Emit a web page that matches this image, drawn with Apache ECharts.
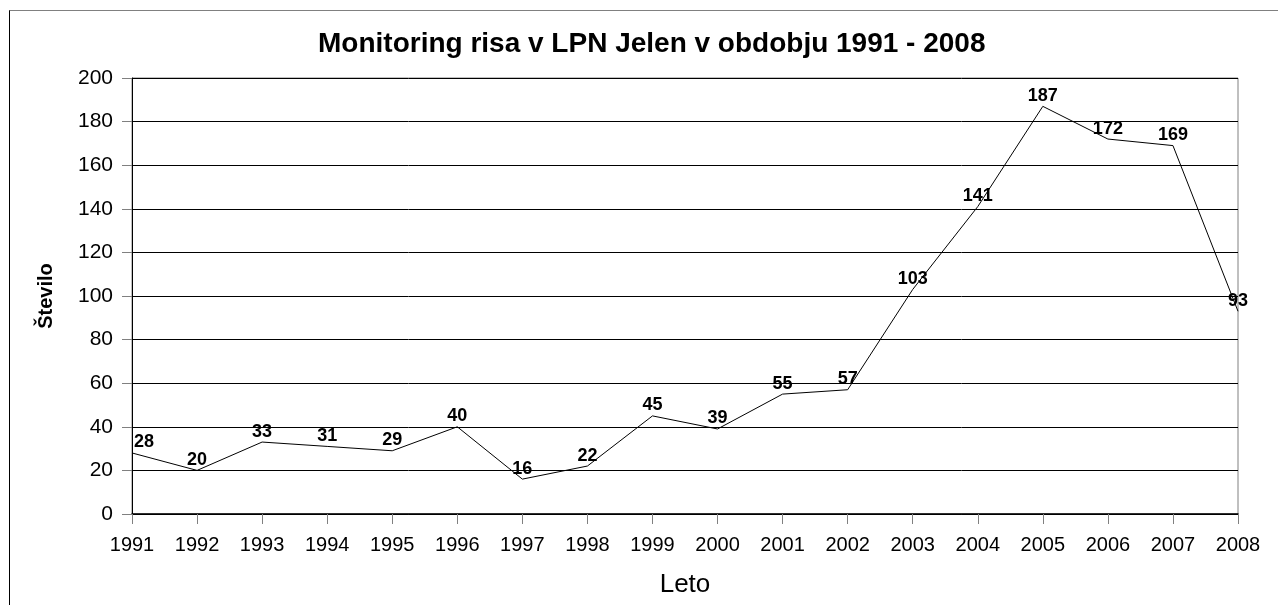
<!DOCTYPE html>
<html>
<head>
<meta charset="utf-8">
<script src="https://cdn.jsdelivr.net/npm/echarts@6/dist/echarts.min.js"></script>
<style>
  html, body { margin: 0; padding: 0; background: #fff; overflow: hidden; }
  #frame { position: absolute; left: 9px; top: 10px; width: 1400px; height: 700px;
    border-left: 1px solid #000; border-top: 1px solid #808080; }
  #chart { position: absolute; left: 0; top: 0; width: 1278px; height: 605px; }
</style>
</head>
<body>
<div id="frame"></div>
<div id="chart"></div>
<script>
  // leto / stevilo
  const years = ['1991', '1992', '1993', '1994', '1995', '1996', '1997', '1998', '1999',
    '2000', '2001', '2002', '2003', '2004', '2005', '2006', '2007', '2008']
  const counts = [28, 20, 33, 31, 29, 40, 16, 22, 45, 39, 55, 57, 103, 141, 187, 172, 169, 93]

  // first label sits a bit right of the axis, like in excel
  const points = counts.map((v, i) => i === 0 ? { value: v, label: { offset: [12, 0] } } : v)

  const chart = echarts.init(document.getElementById('chart'))
  chart.setOption({
    animation: false,
    title: {
      text: 'Monitoring risa v LPN Jelen v obdobju 1991 - 2008',
      left: 313,
      top: 25,
      textStyle: { fontFamily: 'Liberation Sans', fontSize: 28, fontWeight: 'bold', color: '#000' }
    },
    grid: { left: 132, right: 40, top: 78, bottom: 91, show: true, borderColor: '#808080', borderWidth: 1 },
    xAxis: {
      type: 'category',
      data: years,
      boundaryGap: false,
      name: 'Leto',
      nameLocation: 'middle',
      nameGap: 58,
      nameTextStyle: { fontFamily: 'Liberation Sans', fontSize: 26, color: '#000' },
      axisLine: { lineStyle: { color: '#000', width: 1.5 } },
      axisTick: { length: 10, lineStyle: { color: '#808080' } },
      axisLabel: { fontFamily: 'Liberation Sans', fontSize: 20, color: '#000', margin: 21 }
    },
    yAxis: {
      type: 'value',
      min: 0,
      max: 200,
      interval: 20,
      name: 'Število',
      nameLocation: 'middle',
      nameGap: 76,
      nameTextStyle: { fontFamily: 'Liberation Sans', fontSize: 20, fontWeight: 'bold', color: '#000' },
      axisLine: { show: true, lineStyle: { color: '#000', width: 1 } },
      axisTick: { show: true, length: 10, lineStyle: { color: '#808080' } },
      axisLabel: { fontFamily: 'Liberation Sans', fontSize: 21, color: '#000', margin: 19 },
      splitLine: { lineStyle: { color: '#000', width: 1 } }
    },
    series: [{
      type: 'line',
      data: points,
      symbol: 'circle',
      symbolSize: 1,
      itemStyle: { color: 'rgba(0,0,0,0)' },
      lineStyle: { color: '#000', width: 1 },
      label: {
        show: true,
        position: 'top',
        distance: 1,
        fontFamily: 'Liberation Sans',
        fontSize: 18,
        fontWeight: 'bold',
        color: '#000'
      }
    }]
  })
</script>
</body>
</html>
